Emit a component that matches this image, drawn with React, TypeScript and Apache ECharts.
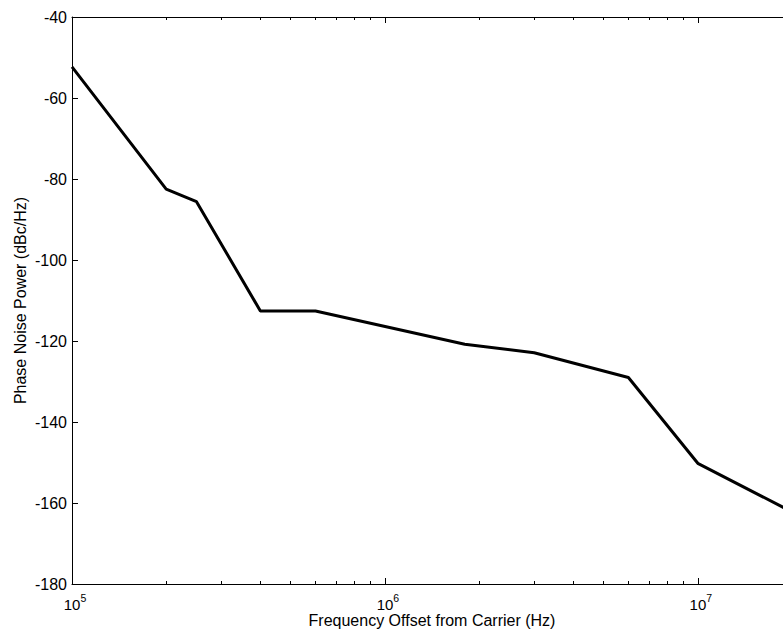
import React, { useEffect, useRef } from "react";
import * as echarts from "echarts";

// Frequency offset from carrier (Hz) and phase noise power (dBc/Hz)
const freqHz = [1e5, 2e5, 2.5e5, 4e5, 6e5, 1.8e6, 3e6, 6e6, 1e7, 2e7];
const phaseNoiseDbcHz = [-52.3, -82.5, -85.6, -112.6, -112.6, -120.8, -122.9, -129.0, -150.2, -162.2];

const xMin = 1e5;
const xMax = 2e7;
const yMin = -180;
const yMax = -40;
const yStep = 20;

// Minor tick positions of the log axis (Hz)
const minorTickHz = [
  2e5, 3e5, 4e5, 5e5, 6e5, 7e5, 8e5, 9e5,
  2e6, 3e6, 4e6, 5e6, 6e6, 7e6, 8e6, 9e6,
];

const xAxisName = "Frequency Offset from Carrier (Hz)";
const yAxisName = "Phase Noise Power (dBc/Hz)";

const FONT = "Liberation Sans, Arial, Helvetica, sans-serif";

export default function App() {
  const ref = useRef<HTMLDivElement>(null);

  useEffect(() => {
    if (!ref.current) return;
    const chart = echarts.init(ref.current, undefined, { renderer: "svg" });

    const axisLine = { show: true, lineStyle: { color: "#000", width: 1 } };
    const minorVals = minorTickHz.map((v) => Math.log10(v));

    const supFormatter = (v: number) => {
      const l = Math.log10(v);
      const e = Math.round(l);
      if (Math.abs(l - e) > 1e-6) return "";
      return `{b|10}{s|${e}}`;
    };

    chart.setOption({
      animation: false,
      backgroundColor: "#fff",
      grid: {
        left: 72,
        top: 17,
        width: 720,
        height: 567,
        outerBoundsMode: "none",
        containLabel: false,
      },
      xAxis: [
        {
          type: "log",
          logBase: 10,
          min: xMin,
          max: xMax,
          position: "bottom",
          axisLine,
          axisTick: { show: true, inside: true, length: 6, lineStyle: { color: "#000", width: 1 } },
          splitLine: { show: false },
          axisLabel: {
            show: true,
            margin: 8,
            formatter: supFormatter,
            rich: {
              b: { fontSize: 15, fontFamily: FONT, color: "#000", lineHeight: 24, padding: [0, 0, 0, 6] },
              s: { fontSize: 10.5, fontFamily: FONT, color: "#000", lineHeight: 12, verticalAlign: "top" },
            },
          },
          name: xAxisName,
          nameLocation: "middle",
          nameGap: 28,
          nameMoveOverlap: false,
          nameTextStyle: { fontSize: 16, fontFamily: FONT, color: "#000" },
        },
        {
          type: "log",
          logBase: 10,
          min: xMin,
          max: xMax,
          position: "top",
          axisLine,
          axisTick: { show: true, inside: true, length: 6, lineStyle: { color: "#000", width: 1 } },
          splitLine: { show: false },
          axisLabel: { show: false },
        },
        {
          type: "value",
          min: Math.log10(xMin),
          max: Math.log10(xMax),
          position: "bottom",
          axisLine: { show: false },
          axisTick: { show: true, inside: true, length: 3, customValues: minorVals, lineStyle: { color: "#000", width: 1 } },
          splitLine: { show: false },
          axisLabel: { show: false },
        },
        {
          type: "value",
          min: Math.log10(xMin),
          max: Math.log10(xMax),
          position: "top",
          axisLine: { show: false },
          axisTick: { show: true, inside: true, length: 3, customValues: minorVals, lineStyle: { color: "#000", width: 1 } },
          splitLine: { show: false },
          axisLabel: { show: false },
        },
      ],
      yAxis: [
        {
          type: "value",
          min: yMin,
          max: yMax,
          interval: yStep,
          position: "left",
          axisLine,
          axisTick: { show: true, inside: true, length: 6, lineStyle: { color: "#000", width: 1 } },
          splitLine: { show: false },
          axisLabel: { show: true, margin: 5, fontSize: 16, fontFamily: FONT, color: "#000" },
          name: yAxisName,
          nameLocation: "middle",
          nameGap: 44,
          nameMoveOverlap: false,
          nameTextStyle: { fontSize: 16, fontFamily: FONT, color: "#000" },
        },
        {
          type: "value",
          min: yMin,
          max: yMax,
          interval: yStep,
          position: "right",
          axisLine,
          axisTick: { show: true, inside: true, length: 6, lineStyle: { color: "#000", width: 1 } },
          splitLine: { show: false },
          axisLabel: { show: false },
        },
      ],
      series: [
        {
          type: "line",
          xAxisIndex: 0,
          yAxisIndex: 0,
          data: freqHz.map((f, i) => [f, phaseNoiseDbcHz[i]]),
          symbol: "none",
          lineStyle: { color: "#000", width: 3 },
          clip: true,
        },
      ],
    });

    return () => chart.dispose();
  }, []);

  return (
    <div
      style={{
        position: "fixed",
        left: 0,
        top: 0,
        width: 783,
        height: 641,
        overflow: "hidden",
        background: "#fff",
      }}
    >
      <div ref={ref} style={{ width: 830, height: 641 }} />
    </div>
  );
}
